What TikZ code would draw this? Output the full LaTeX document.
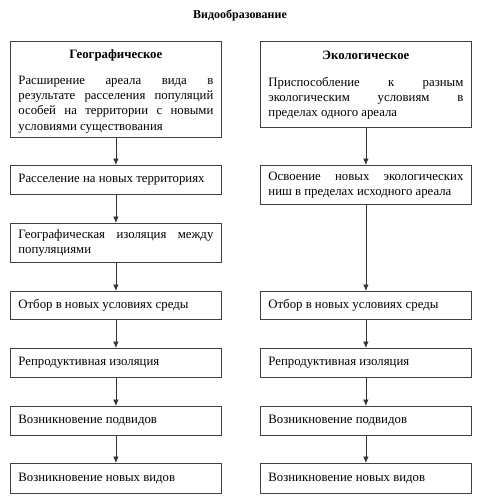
\documentclass[tikz,border=0pt]{standalone}
\usepackage{fontspec}
\setmainfont{Liberation Serif}
\usetikzlibrary{arrows.meta}
\begin{document}
\begin{tikzpicture}[x=1pt,y=-1pt,
  box/.style={draw=black!75, line width=0.8pt, anchor=north west, minimum width=211pt,
    text width=195pt, inner xsep=8pt, inner ysep=2pt, align=justify, font=\fontsize{12.8}{15.2}\selectfont},
  arr/.style={draw=black!80, line width=0.7pt, -{Latex[length=6.5pt,width=5.5pt]}}]
\useasboundingbox (0,0) rectangle (477,500);
\node[font=\fontsize{12}{14}\selectfont\bfseries] (title) at (240,15) {Видообразование};
% left column
\node[box, minimum height=96pt] (l1) at (10,41) {\centering\rule{0pt}{12.5pt}\textbf{Географическое}\par\vspace{11pt}
  Расширение ареала вида в\linebreak результате расселения популяций\linebreak особей на территории с новыми\linebreak условиями существования};
\node[box, minimum height=29pt] (l2) at (10,165) {Расселение на новых территориях};
\node[box, minimum height=39pt] (l3) at (10,223) {Географическая изоляция между\linebreak популяциями};
\node[box, minimum height=28pt] (l4) at (10,291) {Отбор в новых условиях среды};
\node[box, minimum height=29pt] (l5) at (10,348) {Репродуктивная изоляция};
\node[box, minimum height=29pt] (l6) at (10,406) {Возникновение подвидов};
\node[box, minimum height=30pt] (l7) at (10,463) {Возникновение новых видов};
% right column
\node[box, minimum height=86pt] (r1) at (260,41) {\centering\rule{0pt}{10pt}\textbf{Экологическое}\par\vspace{12pt}
  Приспособление к разным\linebreak экологическим условиям в\linebreak пределах одного ареала};
\node[box, minimum height=39pt] (r2) at (260,165) {Освоение новых экологических\linebreak ниш в пределах исходного ареала};
\node[box, minimum height=28pt] (r4) at (260,291) {Отбор в новых условиях среды};
\node[box, minimum height=29pt] (r5) at (260,348) {Репродуктивная изоляция};
\node[box, minimum height=29pt] (r6) at (260,406) {Возникновение подвидов};
\node[box, minimum height=30pt] (r7) at (260,463) {Возникновение новых видов};
\foreach \a/\b in {l1/l2,l2/l3,l3/l4,l4/l5,l5/l6,l6/l7,r1/r2,r2/r4,r4/r5,r5/r6,r6/r7}
  \draw[arr] (\a.south) -- (\b.north);
\end{tikzpicture}
\end{document}
